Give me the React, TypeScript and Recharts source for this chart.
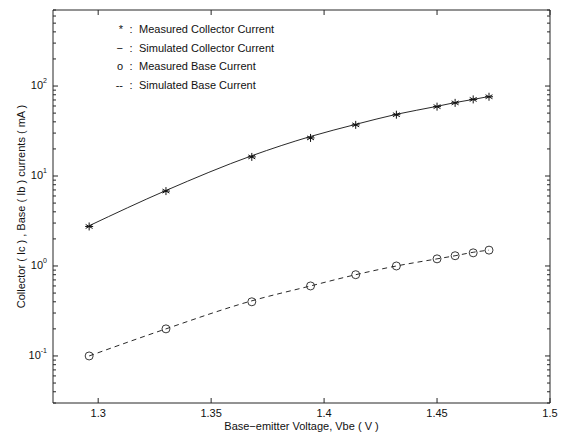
import { ComposedChart, Line, XAxis, YAxis } from 'recharts';

// Base-emitter voltage (V)
const vbe = [1.296, 1.33, 1.368, 1.394, 1.414, 1.432, 1.45, 1.458, 1.466, 1.473];
// currents in mA
const icMeasured = [2.75, 6.8, 16.3, 26.5, 37, 48, 59, 65, 71, 76];
const icSimulated = [2.8, 6.9, 16.8, 27.5, 37.5, 48.5, 59.5, 65.5, 71, 76.5];
const ibMeasured = [0.1, 0.2, 0.4, 0.6, 0.8, 1.0, 1.2, 1.3, 1.4, 1.5];
const ibSimulated = [0.1, 0.2, 0.41, 0.6, 0.8, 1.0, 1.2, 1.3, 1.42, 1.5];

const xTicks = [1.3, 1.35, 1.4, 1.45, 1.5];
const yMajor = [0.1, 1, 10, 100];
const yMinor = [
  0.03, 0.04, 0.05, 0.06, 0.07, 0.08, 0.09,
  0.2, 0.3, 0.4, 0.5, 0.6, 0.7, 0.8, 0.9,
  2, 3, 4, 5, 6, 7, 8, 9,
  20, 30, 40, 50, 60, 70, 80, 90,
  200, 300, 400, 500, 600, 700,
];
const yTicks = [...yMajor, ...yMinor].sort((a, b) => a - b);

const legendRows = [
  { sym: '*', text: 'Measured Collector Current' },
  { sym: '\u2212', text: 'Simulated Collector Current' },
  { sym: 'o', text: 'Measured Base Current' },
  { sym: '--', text: 'Simulated Base Current' },
];

const data = vbe.map((v, i) => ({
  vbe: v,
  icM: icMeasured[i],
  icS: icSimulated[i],
  ibM: ibMeasured[i],
  ibS: ibSimulated[i],
}));

const FONT = 'Liberation Sans, Arial, sans-serif';
const AXIS = '#262626';

const isMajor = (v: number) => yMajor.some((m) => Math.abs(m - v) < 1e-9);

function LeftTick(props: any) {
  const { x, y, payload } = props;
  const major = isMajor(payload.value);
  const exp = Math.round(Math.log10(payload.value));
  return (
    <g>
      <line x1={x} y1={y} x2={x + (major ? 5 : 3)} y2={y} stroke={AXIS} strokeWidth={1} />
      {major && (
        <text x={x - 6} y={y + 3} textAnchor="end" fontSize={11} fontFamily={FONT} fill="#111">
          10
          <tspan dy={-6} fontSize={7}>
            {exp}
          </tspan>
        </text>
      )}
    </g>
  );
}

function RightTick(props: any) {
  const { x, y, payload } = props;
  const major = isMajor(payload.value);
  return <line x1={x} y1={y} x2={x - (major ? 5 : 3)} y2={y} stroke={AXIS} strokeWidth={1} />;
}

function BottomTick(props: any) {
  const { x, y, payload } = props;
  return (
    <g>
      <line x1={x} y1={y} x2={x} y2={y - 5} stroke={AXIS} strokeWidth={1} />
      <text x={x} y={y + 14} textAnchor="middle" fontSize={11} fontFamily={FONT} fill="#111">
        {String(payload.value)}
      </text>
    </g>
  );
}

function TopTick(props: any) {
  const { x, y } = props;
  return <line x1={x} y1={y} x2={x} y2={y + 5} stroke={AXIS} strokeWidth={1} />;
}

function Star(props: any) {
  const { cx, cy } = props;
  if (cx == null || cy == null) return null;
  const r = 4;
  const lines = [0, 60, 120].map((a) => {
    const rad = (a * Math.PI) / 180 + Math.PI / 2;
    const dx = r * Math.cos(rad);
    const dy = r * Math.sin(rad);
    return <line key={a} x1={cx - dx} y1={cy - dy} x2={cx + dx} y2={cy + dy} stroke="#111" strokeWidth={1} />;
  });
  return (
    <g>
      {lines}
      <line x1={cx - r} y1={cy} x2={cx + r} y2={cy} stroke="#111" strokeWidth={1} />
    </g>
  );
}

function Ring(props: any) {
  const { cx, cy } = props;
  if (cx == null || cy == null) return null;
  return <circle cx={cx} cy={cy} r={4} fill="none" stroke="#222" strokeWidth={0.9} />;
}

function LegendBox() {
  return (
    <div
      style={{
        position: 'absolute',
        left: 99,
        top: 20,
        fontFamily: FONT,
        fontSize: 11,
        color: '#111',
        lineHeight: '18.5px',
      }}
    >
      {legendRows.map((r) => (
        <div key={r.text} style={{ display: 'flex' }}>
          <span style={{ width: 24, textAlign: 'right' }}>{r.sym}</span>
          <span style={{ width: 16, textAlign: 'center' }}>:</span>
          <span>{r.text}</span>
        </div>
      ))}
    </div>
  );
}

export default function App() {
  return (
    <div style={{ position: 'absolute', left: 0, top: 0, width: 567, height: 438, background: '#fff' }}>
      <ComposedChart
        width={567}
        height={438}
        data={data}
        margin={{ top: 9, right: 16, bottom: 0, left: 0 }}
      >
        <XAxis
          xAxisId="bottom"
          dataKey="vbe"
          type="number"
          domain={[1.28, 1.5]}
          ticks={xTicks}
          interval={0}
          allowDataOverflow
          height={35}
          tickSize={0}
          tickMargin={0}
          tickLine={false}
          stroke={AXIS}
          tick={<BottomTick />}
          label={{
            value: 'Base\u2212emitter Voltage, Vbe ( V )',
            position: 'insideBottom',
            offset: 8,
            fontSize: 11,
            fontFamily: FONT,
            fill: '#111',
          }}
        />
        <XAxis
          xAxisId="top"
          orientation="top"
          dataKey="vbe"
          type="number"
          domain={[1.28, 1.5]}
          ticks={xTicks}
          interval={0}
          allowDataOverflow
          height={1}
          tickSize={0}
          tickMargin={0}
          tickLine={false}
          stroke={AXIS}
          tick={<TopTick />}
        />
        <YAxis
          yAxisId="left"
          scale="log"
          type="number"
          domain={[0.03, 700]}
          ticks={yTicks}
          interval={0}
          allowDataOverflow
          width={53}
          tickSize={0}
          tickMargin={0}
          tickLine={false}
          stroke={AXIS}
          tick={<LeftTick />}
          label={{
            value: 'Collector ( Ic ) , Base ( Ib ) currents ( mA )',
            angle: -90,
            position: 'center',
            dx: -5,
            fontSize: 11,
            fontFamily: FONT,
            fill: '#111',
          }}
        />
        <YAxis
          yAxisId="right"
          orientation="right"
          scale="log"
          type="number"
          domain={[0.03, 700]}
          ticks={yTicks}
          interval={0}
          allowDataOverflow
          width={1}
          tickSize={0}
          tickMargin={0}
          tickLine={false}
          stroke={AXIS}
          tick={<RightTick />}
        />
        <Line
          xAxisId="bottom"
          yAxisId="left"
          dataKey="icS"
          type="monotone"
          stroke="#111"
          strokeWidth={0.9}
          dot={false}
          isAnimationActive={false}
        />
        <Line
          xAxisId="bottom"
          yAxisId="left"
          dataKey="ibS"
          type="monotone"
          stroke="#111"
          strokeWidth={0.9}
          strokeDasharray="5 4"
          dot={false}
          isAnimationActive={false}
        />
        <Line
          xAxisId="bottom"
          yAxisId="left"
          dataKey="icM"
          stroke="none"
          dot={<Star />}
          isAnimationActive={false}
        />
        <Line
          xAxisId="bottom"
          yAxisId="left"
          dataKey="ibM"
          stroke="none"
          dot={<Ring />}
          isAnimationActive={false}
        />
        {/* invisible series that ties the mirrored top/right frame axes in */}
        <Line
          xAxisId="top"
          yAxisId="right"
          dataKey="icM"
          stroke="none"
          dot={false}
          activeDot={false}
          isAnimationActive={false}
        />
      </ComposedChart>
      <LegendBox />
    </div>
  );
}
